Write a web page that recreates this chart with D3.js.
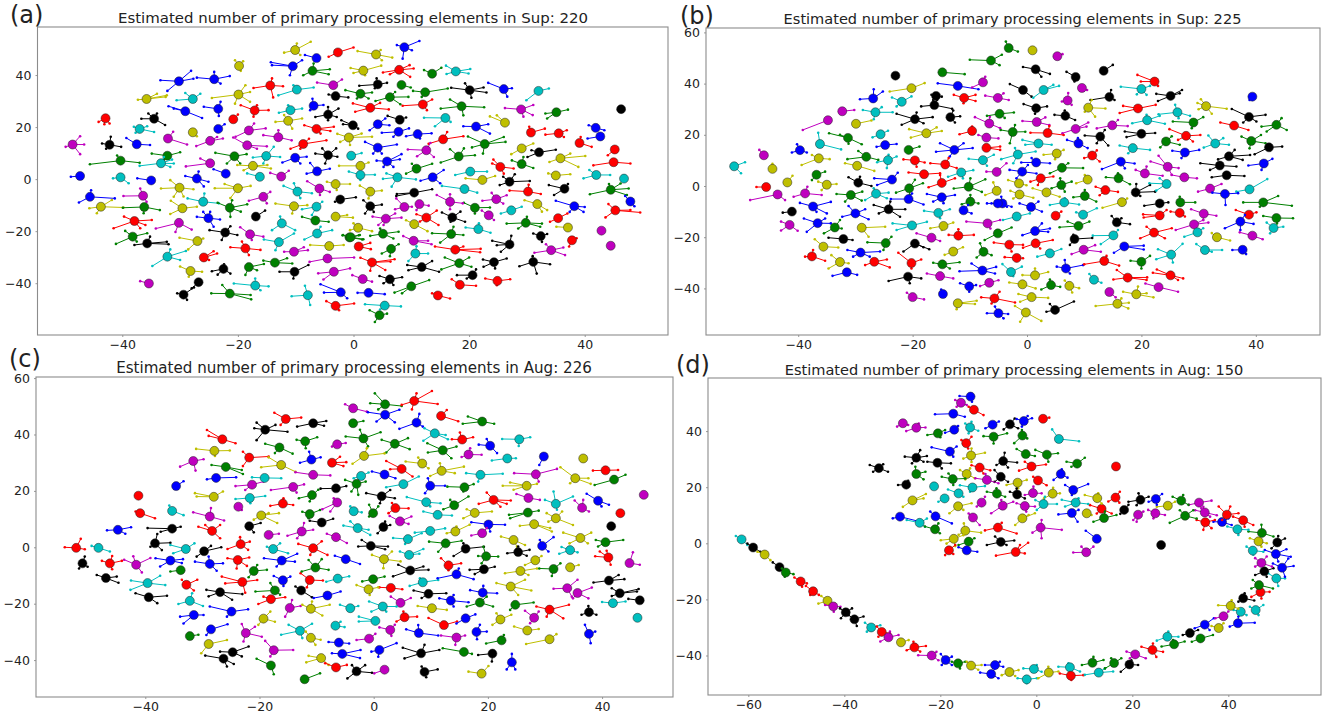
<!DOCTYPE html>
<html>
<head>
<meta charset="utf-8">
<script src="https://cdn.jsdelivr.net/npm/d3@7"></script>
<style>
body { margin: 0; background: #fff; }
text { font-family: "DejaVu Sans", sans-serif; fill: #222; }
</style>
</head>
<body>
<div id="chart"></div>
<script>
// each cluster: x, y, group, then dx,dy pairs for its members (t-SNE units)
var titles = [
  "Estimated number of primary processing elements in Sup: 220",
  "Estimated number of primary processing elements in Sup: 225",
  "Estimated number of primary processing elements in Aug: 226",
  "Estimated number of primary processing elements in Aug: 150"
]
var letters = ["(a)", "(b)", "(c)", "(d)"]
var groupColors = ["#0000ff", "#008000", "#ff0000", "#00bfbf", "#bf00bf", "#bfbf00", "#000000"]

var xTicksA = [-40, -20, 0, 20, 40]
var yTicksA = [-40, -20, 0, 20, 40]
var xTicksB = [-40, -20, 0, 20, 40]
var yTicksB = [-40, -20, 0, 20, 40, 60]
var xTicksC = [-40, -20, 0, 20, 40]
var yTicksC = [-40, -20, 0, 20, 40, 60]
var xTicksD = [-60, -40, -20, 0, 20, 40]
var yTicksD = [-40, -20, 0, 20, 40]

var clustersA = [
[-48.6,13.3,4,1.3,3.2,-1.2,-.9,1.3,-3.7,2,0],[-42.9,23.4,2,-1.2,-1.4,-.2,-2.3,.7,-2],[-42.2,13.2,6,.2,3.1,2,-.8,-1.3,.5,-.6,-1.5],[-37.5,13.4,0,-1.8,2.4,2.3,-.3],
[-37,19.3,3,2.5,-1.2,-1,.8,1.3,1,-.7,-1.5],[-34.5,23.2,6,-2.2,0,1.9,-2.4,-1,2,.5,2],[-35.8,30.8,5,3.5,1.4,3.3,.8,-1.5,-.3,1.8,2],[-30.2,37.6,0,-3.2,.4,2.1,4,-2,-3.7,2.5,1],
[-24.1,38.4,0,-3,.6,2.7,1.2,0,2.8,1.1,-1.7],[-19.8,43.5,5,-.7,2.2,.7,1.8,.3,-1.9],[-27.8,30.8,3,-2.8,-.5,-1.3,2.3,1.3,2],[-29.1,26.1,0,-2.9,1.9,2.9,-2.6,-2,1],
[-23.4,27,0,-2.5,.8,.4,2.7,.1,-2.7],[-19.9,32.5,5,-4.6,-1.3,1.2,3.6,2,-2.8,2,1,-.6,-3.5],[-14.4,36,2,-2.9,-1,2.2,-.3,.3,2.7,.5,-4.6],[-17.1,26.4,2,-2.4,2,2.4,.1,-.2,-2.4,.4,2],
[-20.8,23,2,.8,1.8],[-23.4,19.3,0,1.1,1.8],[-27.8,18,5,.7,-1.5],[-32.1,15.6,4,3.3,-2.3,.9,2.6],[-24.8,14.7,4,-2.4,-2,2.2,.9,1.2,1.5],[-18.1,18.7,4,-2.3,-2.4,2.9,.8,.9,2.7],
[-18.4,13,4,-2.4,3,3.4,-.4,1.7,-1.3],[-13,16.1,4,-2.6,.8,0,2.7,2.3,-1.2],[-11.3,22.4,5,-2.2,-.4,2.4,.9,.7,-3,-.7,2.2],[-10.9,26.5,3,-2,-1,2,.6,-.4,1.9],[-9.8,34.4,3,-3.2,-2.2,2.9,.8,-.6,1.7],
[-7.1,41.6,1,-1.6,-1.7,3,.6,.2,2.8,2.8,-1.3],[-10.5,43.4,0,-3.8,1.5,1.6,2.3,-.5,-3.5,-3.6,.4],[-6.4,46.5,0,-2,1.2],[-10.1,49.6,5,2.7,3.2,-1.9,-1,.9,-1.9,.3,2.5],[-2.7,48.7,2,-1.6,-1.7,2.7,1.9],
[-3.5,36.1,4,-2.8,1,1.5,2.2],[-3.1,31.9,6,-1.2,.6,2.2,-.5],[-6.9,28.2,0,-.2,2.7,1.7,.3,-.6,-1.7],[-4.4,24.8,6,-2.2,-.9,1.8,2.3,1.5,-.9,0,-2.2,0,2.9],[-6.4,19.3,2,-2.1,1.4,3,.8,2.4,-.8,.7,-1.8],
[-8.7,13.5,2,-2.2,-1.8,4,1.4,1,2,-.5,-1.8],[-4.4,9.2,6,-2.2,.6,1.4,2.6,-.5,-3.2,1.6,-.6,-1,2.6],[-15.1,8.9,3,-2.3,-.6,1.3,3.5,2.4,-.4,-.5,-2.9],[-20.6,8.8,1,-3.3,1.3,2.1,.8,-1.3,-2.8,1,-2.8],
[-32.2,9,1,-2.7,.8,2.2,1.3,-.6,-1.5],[-40.3,7.1,1,-5.3,-1.4,3.3,-.8,-.6,2],[-33.3,6.1,3,-3.7,-1,2.2,-.1,1.9,1.4,.5,2.4,1.6,-1.4],[-24.8,6.1,4,-4.2,-1.2,-1.7,1.8],[-17.4,5.1,5,-2.7,.3,3.1,-1,2.5,.3,-1.6,-1.7],
[-10.1,8.2,0,-2.2,-1.8,2,.4,.9,-2.2],[-6.3,3,0,-1.2,3.2,2.2,1,-1.8,-.9],[-12.5,1,4,-1.9,1.4,1.3,2.2],[-16.2,.9,3,-2.2,1.3],[-22.1,2.1,0,-2.1,1.7],[-47.3,1.2,0,-1.6,-.3],[-40.3,.7,3,-1.3,-.4,1.4,-2.3],
[-35,-.5,0,-2.4,.8],[-27.1,.2,0,-2,1,2,-1.2,1.2,-3,.3,2.7],[-3.1,-1.9,5,-1.5,.9,2.5,0,.2,-2.3],[-2.3,-7.8,6,-.9,-.9,2.7,.8],[-3.1,-14.4,5,2,.6,3,-.4],[-.7,-22.4,1,2.2,-.8,-1.2,.8,1.6,.8],
[-45.6,-6.8,0,4.3,-.6,-1.9,-2.2,.2,2.5],[-43.7,-10.6,5,-2,-.6,3.9,-.3,1.9,2.6,-.7,-2.5],[-36.4,-6.4,4,-3.4,-.1,-.5,2.8,.6,-2.3],[-36.2,-10.7,1,-3.7,-.3,2.7,-1.2,-.1,-2.4],[-30.1,-3.3,5,-3.2,-.3,-1.6,2.9,2.4,-.6,-1,-3.5,.7,-3.4],
[-20,-3.5,5,-4,0,2.2,.9,-1.3,-3.8,-2.3,1.6],[-26,-8.7,3,-2.7,1.3,2.7,-.6,.2,3.2],[-29.6,-11.2,5,-2,2.9,-2.1,-2.2,2.5,.6],[-21.4,-11,1,-2.1,1.9,3,1.3,.4,2.9,.1,-3.5,1.9,-1.5],[-15.6,-6.8,4,-2.5,-1.5,1.2,1.9,.6,-2.5],[-16.9,-14.4,6,1.6,2.3],
[-10.3,-10.4,5,-3.2,1,2.3,.4,-.3,-2.8],[-9.7,-4.8,3,-2.4,2.2,2.5,-.6,-.6,3.2,.5,-2.5],[-5.9,-3.6,4,-2.1,2.8,1.8,-1.3,.1,-2.5],[-6.4,-10.6,3,-2.5,-1,1,1.9,-.8,-3.2],[-6.6,-15.9,1,-2.3,1.4,2.3,-.5],[-25.1,-15,0,-2,.5,2,-.5,.3,2.4,-.9,2.4,.9,-3.3],
[-30.2,-16.8,4,-4,-2.2,2.2,-2.6,-.6,-3.5],[-37.9,-16.1,2,-3.6,-2.8,3,.4,-1.8,1.7,1,-2.8,1.9,-1.5],[-38.2,-22.1,1,-2.9,-2.8,2.5,1.3,-1.3,2.2,.7,-1.9],[-35.7,-24.7,6,-2.2,-.6,3.7,-.3,3.4,.6,.5,2.6],[-32.2,-29.8,3,-2.6,-3.6,3.2,2.2,2.2,-1.3,.5,2.8],
[-27,-23.8,5,-3.1,1.3,-1.6,-3.2,1,1],[-22.2,-20.5,6,-2.7,.9,2.1,-1,.9,2.4,-.6,-2.9],[-17.9,-21.2,4,-1.7,2.7,2.3,-.9,.3,-2.2],[-12.4,-17,3,-1.7,-2.6,2.3,-2.6,-.3,2.6],[-12.9,-24.2,3,-2.6,1,2.6,3.3,-.6,-3.1],[-6.3,-20.9,3,-2.2,-2.3,2.6,1.3,.6,2.6],
[-18.7,-26.6,2,-2.6,.4,2.6,-.6,-.6,2.6,.6,-2.6],[-10.3,-27.9,4,-1.7,0,2.4,.6,1.7,1.7],[-4.2,-25.7,5,-3.3,.4,2.5,.4],[-25.9,-30.1,2,2.3,1.5,1.7,2.4,.9,-1],[-28.2,-35.3,5,-1.8,1.7,2,-.3,-.3,-2.2],[-22.5,-34.5,6,-2,-.9,1.2,-1.8,.1,1.8,-1,-2.2],
[-18.1,-33.8,1,2.6,1.2,-.6,-3,1.4,-1.2],[-13.6,-32.1,1,-2,.8,3,-.3,2.1,1.7],[-10.2,-35.6,6,-2.6,0,2.4,2.6,-.2,-2.6],[-4.5,-30.5,4,-3.1,-1.3,4.6,.4],[-3.4,-35.6,4,-2.7,-.6,2.8,1.3,-1.8,-3],[-35.4,-40.1,4,-1.5,.9],[-26.8,-39.6,6,-1.2,-2.4],
[-29.4,-44.4,6,1.8,2.8,.6,-2,-1.1,.5],[-17,-40.9,3,-3.7,.8,2.3,-.3,0,2.7,.9,-1.8],[-21.4,-44,1,-3.2,.1,3.7,-2.2,3.6,-.5,-1.3,3.3],[-7.9,-44.6,3,-2.8,-.4,-.5,3.6,.4,-3.8],[-2.2,-43.5,0,-3.5,3.1,-2.9,-.1,1.1,-2.3],[-3.1,-48.7,2,-1.6,1.8,.6,-1.7,3.2,.9],
[8.8,50.7,0,2.6,2.4,-1.3,.8,-.3,-4.4,1.3,-1.2],[3.9,47.9,5,-3.2,1.3,2.8,-1.2,1,-2.2,.8,1.7],[1.7,41.7,5,-2.2,1,3.1,1.9,.3,-1.8,-1.7,-.9],[7.9,42,2,-2.8,-1,2.5,.5,1.8,1.8,1.9,-2.7,-1.6,-1.7],[13.6,40.5,1,-1.4,1.4,1.6,2.3],[17.7,41.4,3,-1.7,2.2,2.5,.9,2.2,-.8,-1.6,-1],
[4.2,36.4,6,-3.2,-.5,1.6,.6,-.2,2.3,-.5,-1.5],[8.3,36.2,1,1.6,-1],[12.4,33.4,1,-2.1,.5,3.9,1.4,-.6,-1.8],[20.1,34.2,6,-3.2,.9,2.9,-.9,-.8,2.6,.3,-2.9,2.4,1],[26,34.6,0,-2.7,2.4,1.4,.3,.6,-2.9],[32,33.9,3,-2.1,-3.6,1.8,.9],[1.2,32.8,1,-2.6,1.4,2,.5,1.4,-1.8,-.6,-1.8],
[6.3,31.5,1,-2.5,-1.5,3.2,.1,1.8,-2.7,.9,2],[29,26.8,4,-2.8,.5,2,-2.2,2.1,1.7,.4,-2.8],[35.1,25.7,1,2,1,-1.6,-2.4,-1.9,-.5],[46.3,26.9,6],[2.9,27.4,2,-3,1.7,3.2,-.6,1.7,1.9,-2.6,-1.5],[12,28.7,2,-3.5,-.5,1.6,1.9,.7,-2.2],[18.7,28,1,-3.6,-.9,3.9,-.4,-2,2.6,.3,-3.5],
[15.9,23.5,3,-3.7,.1,-1.8,-3.2,.9,-1.5],[4.2,21.1,0,-1.4,-2.3,2,-.4,1.3,2.2],[-.1,20.7,6,-2,1.9,.9,-1.3,-1.7,.4],[8,22.8,6,-2.1,1.5,1.1,.9],[7.8,18.2,0,-2.9,-.4,1.8,1.3,-.9,-1.9],[11.1,17.3,0,-2,-.8,2.4,.3,.4,-1.7],[21.2,20.2,0,-2.2,.1,2.4,-2.7,2.1,.9],
[26.2,21.7,5,-2.6,2.4,-1.4,2.8],[41.9,19.7,0,-1.2,1,1.5,-.9],[42.7,16.4,0,-2.2,-.8],[30.7,17.9,2,2.4,1.5,-.3,2.2],[35.5,17.6,2,-2.3,-.5,1.4,1.2,.9,-1.4],[39.1,13.9,2,2.1,-1.5,.2,2.3],[45.2,11.4,2,-1.2,-2.2],[45,6.5,2,-3.5,-1.2,2.9,-.5],
[-.8,16,5,4,.3,2.2,1.5,.2,-2.9,-2,1.4,-1.5,-1.7],[15.5,15.3,2,-2.5,-1.7,3.5,1.2,.7,2.8],[22.7,13.5,1,-2.9,2.9,3.6,.8,3.3,2.7,-.3,-3.7,-2.2,-1.3],[29.1,11.8,5,2,1.9,-1.8,-2.2],[32.1,10.3,6,-2,-1.8,2.9,1,-1.3,.8],[35.8,8,5,-1.9,-1.4,4.3,.9,3.1,-3.3,1.7,1.8],
[12.6,11.1,4,-3.2,.3,1.3,-2.6,.7,2.8,-1.6,-2.3],[4.2,12.1,0,-2.2,2.2,3.3,1.2,-.8,-2.3,.7,-2.3],[-.4,9,3,1.8,1],[1.2,5.1,5,1.4,1.3,-3.7,0],[5.8,6.8,0,-1.8,.3,2.5,2.8,2.2,.8,-.6,-2.1,1.1,-2.1],[18.2,8.7,1,-3.1,-2.3,2.8,.5,-1.5,2.8,.9,3.1],[10.9,4,1,-1.8,-1.9,2.7,1.9,-.8,1.9],
[25.4,4.7,2,-1.4,1.3,2.3,-.6,-1.2,2.8,.6,-2.6],[29.1,5.8,1,-1.7,1.4,2,-1.5,.3,2.7],[35,1.4,5,2.5,.5,-1.3,.8],[42,1.6,3,-2.2,-1.3,2.4,0,-1.2,1.9],[46.8,.2,3],[20.2,2.9,3,-2.6,-1.3,2.9,0],[7.6,.7,3,-2.5,-.6,3.2,-.8,-1,-3.6,-1.9,1.5],[13.7,.7,0,-2.1,-1.3,1.9,2.8,1.3,-2.3],
[1.2,1.6,3,-2,1.3,2.5,.1,0,-1.9],[22.3,-.3,5,-2.9,.6,2.2,1.5],[27,-1,6,-1.7,-1.3,3.5,.3,.9,2.9,-1.1,1.9],[2.9,-4.8,5,-1.8,2.3,2,.4,-.3,-2.6],[10.5,-5.2,6,-3.1,-1.3,3.1,1.3,-3,-.5],[19.2,-3.8,3,-3.9,1.2,2.2,-1.4],[30.2,-4.8,2,-3.2,.4,2.2,-.9,.1,2.6],
[36.5,-3.7,6,-2.7,1.4,-1.8,-2.4,.6,1.8],[44.5,-4.1,1,-3.6,-1.7,3.1,.5,2.8,-2,-.3,2.2,1.7,2.4],[47.9,-8.6,0,-.9,2.1,.7,-1.8],[45.3,-12,2,-1.7,-2.7,4.3,-.8,-1.2,2.4,2.6,.1],[42.9,-19.8,4],[44.5,-25.6,4],[38.2,-10.4,0,-3.2,2.1,1.8,-.3,1.6,-2.2,-.8,-2.2],
[31.8,-9.6,5,-2.2,1.5,1.7,-2.3,.8,-2.9],[24.7,-7.7,4,-2.4,-.6,1.8,1.5,1.2,-1.7,-.8,2.4],[21,-11,1,-1.9,1.9,2.6,.1,0,-2.2],[16.7,-8.7,4,-2.3,2.6,2.2,-.6,0,2.9,0,-2.9],[11.4,-9.6,4,1.6,-.6,-.5,-2.3],[8.8,-10.7,4,-1.6,-.9,-1.4,3.3,1.3,.1],[2.9,-10.4,6,-1.2,2.3,2,.6,-.9,-2.8,.6,-2.2],
[12.6,-14.8,2,-1.7,1.3,1.8,2.7,2.1,-2.8,-1.1,-1.5],[17.1,-14.7,6,-1.8,1.9,2.2,-1.7,1.4,2.2,-.3,-1.7],[23.4,-13.9,4,-1.2,1.8,.9,-1.8],[27.3,-12,3,-1.8,-1.2,1.8,1.4],[29.8,-16.8,1,-3.3,-.3,2.8,-.3,2.5,-1.5,.2,2.3,-1.3,-2.2],[35.4,-15,2,-1.4,-1.4,1.6,1.8],[37.1,-18.6,5,-2,.3],
[32.4,-21.9,6,-1.3,1,1.1,.8,.2,-2.2],[37.8,-23.5,2,-.5,-2.4,.8,.8],[34.2,-27.3,4,-2.9,-1,2.4,-1.9,-.9,2.3,2.1,1],[31.1,-31.8,6,-2.4,-1.7,2.9,-.9,.6,-4.5,-.1,2.2],[27,-25.1,6,-3,1.4,-1.5,-2.8,.3,3.3,-2.2,-.3],[21.6,-19.2,3,-2.2,.6,2.1,-1.4,.1,2.2],[16.9,-21.1,1,-3.3,.3,-1.9,-3.3,2.1,-.4,.4,2.8],
[10.4,-23.7,4,-1.8,1.8,3.1,-1.3,2.5,0],[10.7,-28.6,3,-1.2,-2.9,2.2,0,.2,2.8],[17.6,-27.1,2,-3.5,1.2,4.4,.3,4.3,-1,1.4,1.2],[24.3,-31.9,6,-1.9,1,2.2,1.4,-1.8,-1.8,.2,-2.4],[18.3,-32.3,1,-3.1,-2.4,1.7,2.2,-2.5,2.2,2.1,-1.4],[11.8,-33.8,6,-2.5,.8,3,-1.8,1.8,2.3,-2.3,-1.2],
[20.6,-36.9,6,-2.7,0,.6,2.2,-1,-1.3],[24.9,-39.1,2,-2.1,.9,2.2,.6,-.1,-1.7],[18.4,-40.6,2,-1.4,2.1,2.8,-.4],[14.6,-44.7,2,-1,.8,2.1,-1.2],[10,-41.2,1,-2.9,-2.4,3.1,2.4,-1.6,-2.7],[2.6,-43.7,0,-1.9,0,2.8,-.5],[5.4,-48.6,3,-3.4,.5,2.8,-.3,-.8,-1.5],
[4.5,-52.3,1,-1.7,1.9,-.8,-2.6,1.3,.6],[1.6,-38.4,4,-1.8,1.5,1.6,-1],[6.3,-38.5,6,-1.8,1.3,2.1,.8,-1.1,-1.5,.6,-2.2],[6.5,-26.8,1,-1.6,-1.8,1.3,1.8,-.2,-2.8],[3.2,-32,2,-2,1.8,3.9,1.2,2.3,-2.9,-.3,-3.2,3.2,.3],[.9,-25.9,2,2,1.4,2.1,-1],[-.5,-22.3,1,2.2,-.8,-1.3,.8,1.6,.8],
[5.1,-21,1,-2.2,-.8,2.7,.8,1.8,-1.8,-.5,2],[.8,-18.7,5,2.4,-1.3,-.8,1.7,-1.4,-.9],[10.5,-17.3,5,-1.4,1.5,2.3,-2.7],[5.6,-15.2,4,-2.3,.8,2.7,.4,-.4,-2.4,1.6,2,-1.3,-2.4]
]

var clustersB = [
[-51.2,7.7,3,1.9,1.6,1.2,-2.7],[-46,12,4,-.8,2.1],[-44.5,6.7,5,0,2],[-41.9,1.4,5,.9,2.6],[-45.6,-.4,2,-1.7,0],[-43.6,-3.3,4,-4.8,-2.2,1.3,-2.2],[-38.8,-2.9,4,-2,-1.3,2.9,-.6,.4,2.6],[-35,.5,5,-1.5,1.2,1.7,.3,-.9,-2.1],[-36.8,4.4,1,-.8,-2.1,1.5,1.2],
[-34.8,25.7,4,-4.4,-3.8],[-32.3,29.2,4,2.1,.5],[-26.9,34.2,0,-2.3,-.3,1.7,2.7,.1,3.6],[-20.2,38.2,5,-3.8,-1.3,2.3,2],[-23,43.1,6],[-14.8,44.4,1,3.9,-.7],[-6.3,49,1,-3.7,.3,1.9,2.3,1.5,-1.8],[-12.1,39.1,0,-3.5,1,3.6,-1.3],[-7.7,40.5,4,-1.9,-2,.4,2.2],
[-15.9,35.2,6,1,-.3,-.8,.4,-.5,-1.6],[-11,34.4,2,-1.8,1.2,2,1.2,2,-1.2,-.1,-2.1],[-21.9,32.9,3,-1.7,1.7,1.7,2.1,-.9,-1.8],[-26.5,28.8,3,-2.2,.9,3,0,-.3,-2.7,1.1,2],[-16.2,31.6,6,-2.3,-.5,3.1,-1.4,.5,2.1],[-19.6,26.1,6,-3.2,2.1,3.1,.8,-2.3,-2.2,.3,2.6,1.5,-1.6],
[-13.4,26.9,6,1.7,.3,.5,2.6,.8,-2.1],[-29.9,24.3,5,2.7,1.3],[-17.6,20.6,5,-3,1.6,2.7,.9,-2.7,-1.7,1.8,2.3],[-25.6,20.2,3,-1.4,-1.2,1.3,1.4],[-31.3,18.8,1,-3.3,1.8,2.4,-2.5,.1,-2.3,-1.4,1.2],[-36.2,16.4,3,-.3,4.4,3.7,-2.1],[-39.7,14,0,-1.4,-.9,1.2,-.9,-.5,2.3],
[-24.8,16,0,-1.5,-.7,2,.4],[-36.4,10.8,5,-3,-2.6,1.9,-.3,-1.2,1.3],[-20.7,14.1,1,1.9,1.3],[-9.6,21.5,2,-2.2,-1.3,0,1.7],[-12.7,14.1,0,-3.2,-.7,3.2,.7,-2.5,2.6,1.6,2.6,-.8,-2.6],[-7.1,18.9,4,-1.4,1,2.1,-.3],[-6.6,24.4,4,-2.5,2.5,1.9,-1.8,.1,2.7],[-4.8,28.2,1,-2.2,-.8,2.5,.5,.9,-1.6],
[-7.1,14.9,2,2.4,.5,2.4,-.8],[-7.7,10.1,3,-2.5,.5,1.9,2.1,.7,-2.2],[-5.1,34.4,4,1.9,-.8,1,1.8,-2.2,.9],[-19.6,10,2,-2,.4,1.7,-.8,.3,-2.5],[-14.3,8.4,2,-2.6,.5,2,-1.4,.6,2.5],[-29.7,7.9,5,-2.1,1,3,-2],[-28.1,11.4,1,-3.3,-.9,-1.4,2.3,2.1,-1.2],[-24.3,10.1,3,-1.9,-.8,1.5,1.4,-.2,-3.1,.1,2.1],
[-3.2,53.9,1,-.5,2.5,1.6,-1.4],[.96,53,5],[5.3,50.7,4,.9,.8],[1.5,45.6,6,-2.2,.9,2.5,-1.8,1,-2.9],[8.5,42.6,6,-1.6,2,-.2,-1.8],[13.4,45,6,1.6,2.3],[22.3,40.8,2,-3,2.6,-2.4,0,.6,-1.7],[20,37.9,3,-3.6,.9,1.5,1.2,-.8,-2.1,.9,-2.3],[-.7,37.5,6,-2.3,2.3,1.5,-2.6],
[2.9,37.5,3,-1.8,-3,2.7,1.6,1.7,2],[9.6,38.3,4,.9,-.8],[7.1,33.4,4,.1,2.9,-1,-.4,.7,-1.7],[14.4,34.8,6,-3.3,-1.2,.3,2.7,.9,-1.2],[25.1,35.2,6,-2.5,.8,2,2.3,-2.2,-2,1.6,1],[39.4,34.9,0,-.5,-1.3],[31.3,31.2,5,3.6,-1,-1.5,1.2,-.9,2.7,1,-3,-1.3,-1.2],[10.7,30.6,5,3,-.3,.6,3,1.2,-3.5,-.6,-1.6],
[19.4,30.3,2,-3.2,-1.8,3.1,1.4,-2.6,1],[26.3,28.8,3,-3.3,-.8,2.2,-1.4,-.4,2.9,.2,-2.3],[1.6,30.4,6,-2.2,1.6,1.9,.7,-.2,-2.2],[6.7,27.4,6,-1.9,.4,1.7,-1.6,-.1,2.1],[1.7,25,4,-2.5,.4,2.2,-1.2,1.5,1.8],[38.8,27,6,-3,3.1,2.9,.8,-1,-2.2,1.3,-1.8],[21,25.7,3,-2.6,-1.2,3.1,-1.4,2.2,1.7,-.1,2.1],
[29.1,24.8,1,-3.6,.4,1.7,2.1,-.3,-2.2],[43.6,23.9,1,-2.6,-.7,1.8,-2,.9,2.6,-1.7,-2.6],[36.2,23.6,2,-2.4,1.2,2.5,-1.7],[14.9,23.7,4,-2.7,-1.2,2.7,-.3,1,2.1],[8.5,22.3,4,-2.3,-1.7,2.2,2.5,1.9,.9],[3.6,20.7,2,-3,.1,2.8,-.8,.3,2.7],[-2.5,21.1,1,-2.1,.8,2.2,.1,-.5,-4.4,.4,2.7],
[20,20.4,6,-2.9,.9,2.4,.3,-2.6,-1.3],[12.8,19.3,6,-2.7,.4,1.4,-3.5,.8,2.6,-.6,-2.6],[27.8,19.6,2,-2.9,2.6,2.5,.3,-1.4,-1.6,1.2,-2.2],[24.3,17.4,1,-1,-2.3,2.4,-1.3,1,2],[32.9,16.6,3,-2,-1.6,2.4,-.5,-1.2,3.1,1.4,2.1],[39.2,17.6,1,-1.7,1.7,2.5,-.9,-.3,-2.9,1.7,2.3],
[42.3,15.1,6,-2.5,-2.7,2.3,.3],[2,16.6,3,-2.8,1.4,2.3,-.5,-2.3,-.5],[9,16.6,0,-2,1.4,1.6,-1.8,-.1,2.1],[18.5,14.8,3,-2.3,1,3,-.7,-.8,-2],[27.6,13.1,0,-2.2,.7,2.5,1,-.6,-2.2],[35.3,11.6,6,-1.9,-1.2,3.7,.5,1,2.5,2.4,-1.4],[5.2,12.7,5,-2.3,-.5,1.2,1.4,-.3,-2.2],
[-1.6,12.3,3,-2.9,-1.8,3.1,1.2,-.8,-3.4,-.5,2.5],[11.4,11.9,2,-1.4,-1,1.3,-2.3,.8,2],[16.4,9.5,0,-3.3,-2.9,2.4,-.7,.7,-2.6],[24.6,7.5,4,-3,2.1,1.9,-.5,-1.6,4.3,.7,-3.1],[33.7,8,6,-3.4,.9,2.9,-.4,-1.7,-1.7],[41.4,8.8,0,-2.7,-.8,1.5,1.8,-.4,-2.5],[1.6,9.2,0,-2.6,0,2.4,-.3,-.8,1.7],
[-.85,5.6,0,-2.2,.7,2.5,-.7,-1,-2.6,1,2.6],[6.1,7.1,1,-2.1,-2.1,3.7,-.1,1.1,1.8],[-5.3,5.5,4,1.7,3.4,-1.8,.1],[20.6,4.9,4,-1.6,1.4,3.1,-.9,.3,2.7],[27.5,3.4,4,-2.2,.9,2.2,-.4],[34.9,4.2,6,-2.6,-.8,3.1,-.3],[2.4,3,2,-1.8,-1.3,2.2,.7,-.5,-2.6],[6,.4,1,-1.7,-1.3,1.8,1.3,.6,-2.6,-.2,2.6],
[10.6,2.5,5,-2,-1.4,-.5,1.8],[16,3,1,-2.2,.4,2,-2.3,-.1,2],[19,-2.5,6,3.4,.3,2.5,2.9,.1,3.3,.8,-1.4],[24.4,.8,3,-3,.3,-1.2,2.2,-1.8,-2.6],[32,-1,4,-2.1,-1.2,2,1.8],[38.9,-1.3,3,3.1,4,-2.3,-.9],[34.6,-3.1,0,-2.2,.5,2.3,.3,.1,-4.3],[41.3,-6.4,1,-3.5,0,5,-1.3,2.6,2.5,-.6,-1.7],
[26.8,-6.4,1,2.6,0,-.1,2.2],[26.7,-10.5,2,-1.6,.5,.9,-1.4],[23.2,-6.8,6,-2.7,-.9,1.5,.4],[23.2,-11.5,2,-2.9,.4,-2.8,-.8,1.2,2.1],[16.6,-6.3,5,-3.4,-2.2,.9,1.4],[10.1,-3.9,1,-2,-.5,2,-2.2,0,2.3],[13.7,-1.6,2,-1.7,1.3,2.2,-.7,-1,-2],[3.4,-2.5,5,-2.4,1.6,2.3,-1.7],
[6.5,-6.4,3,-2.5,-1,2.6,-.8,.1,1.6],[9.8,-11.2,3,2.4,2.5,-1.2,.9],[5,-11.6,2,1,1.6],[30.9,-10.8,4,-2.2,1.7,2.2,-.8,-.1,-2.5],[38.8,-11.2,2,-2.3,1.8,1.3,.9],[43.6,-12.5,1,-2.3,.8,2.9,-.1,.1,-2.1],[43.1,-16.4,3,-1.2,2.1,1.7,.5,-.6,-2.1],[37.3,-13.9,0,-2.7,-2.6,2.3,-.9,0,-3.3,.8,2.6],
[29.2,-15,4,-3.2,-2.2,2.5,.7,1.6,1.7],[29.8,-18.1,3,-2.3,-1.7,1,1.6],[22.2,-18.2,2,-2.4,-2.2,3.1,1.7,1.9,-2.2,-1.3,2.3],[33.2,-20,5,2.3,-1.3,-.9,1.6],[39.4,-19.4,4,-2.2,1.3,1.8,-1.4],[31.1,-25,3,-1.5,2.3,3,0,1.2,-.7],[37.7,-24.9,0,-1.8,-.1,.6,-1.7],[25.2,-26.8,3,-2.6,-1.8,2,4.2,-2.3,2.1,.3,-3.1],
[20,-29.6,1,-1.9,.4,1.5,2.3,0,-2.6],[25.1,-34.9,2,-3.1,1,2.2,-1.2,-2.4,2.3,1.3,-1.8],[17.6,-35.8,2,-2.5,-.7,3.4,.1,-1.9,3,3.3,-.9],[23,-39.5,4,-2.3,1.4,3.4,-1.8],[19.1,-42.3,5,-2.3,1,3,-1.2,.3,3,1.8,.4],[15.8,-46,5,-3.8,-.9,2,.4,1.9,-1.8,.7,2.1],[14.4,-41.4,4,1.1,-2.1],
[4.9,-48.4,6,3.3,3.3,-1.5,-.7,-.9,2.3],[-.2,-49.4,5,-1.9,2.5,2.7,-3.3,-1,-3.6],[-5,-49.7,0,1.7,-.3,-.6,2.6,.9,-2,-2,0],[-5.7,-43.9,2,-2.3,.4,3.6,-1.6,.9,2.6,-.5,-2],[.8,-43.4,5,-2.3,1.2,2.9,-.3,-2,-1.8],[-.8,-38.4,5,-2.3,.7,2.3,-1.6],[1.4,-34.9,5,-2.2,.1,2.3,1.3,0,2.7],
[4.2,-38.7,1,-1.7,-1.7,1.6,-.7,-.2,2.2],[7.4,-39,5,-.8,2.1,1.7,-.9,.5,-2.6],[11.7,-36.6,3,-.8,2.2,1.3,-1.2],[6.8,-32.2,0,-1.6,.7,3,1.3,-.2,3.3,.7,-2],[13.5,-29.3,2,-3.5,-1.3,2.6,-1.8,.4,2],[9.9,-24.9,4,-2.1,-1.7,3,-.8,2,1.8],[4,-26.3,3,-2.2,-1.3,2,1.7],[17,-23.6,0,-1.8,-2.5,3.4,-1.2,3.4,.3],
[15.1,-19.3,3,-3.6,-.1,-2.2,-3.4,.8,2.1],[8.3,-20.7,6,3.1,.4,-.8,-2.3,-.2,1.6],[9,-15.6,1,-3.3,-.5,1.9,1.7,-1.9,1.7],[15.7,-14.2,6,2.3,-.7,-.9,2.5,.8,1.6],[1.4,-17.6,0,-2.2,-1.6,2.6,1,1.2,3,2.3,-.3],[-1.8,-11.9,3,-2.4,-1.4,2.3,1.2],[.7,-8.2,0,-2,1.4,1.9,-1.8,1.3,2.1],[-4.3,-6.8,0,-1.9,0,1.6,-1.3,-.2,2.6],
[-5.1,-18.5,1,2.4,2.3,-2.3,-2.6],[-3.1,-22.9,2,-2.7,.8,2.4,-.1,.4,-2.7],[1.5,-22.4,2,-2.2,-1.7,3,1.3,.8,-2],[-1.8,-28.1,2,-2.1,.3,1.1,-.1],[-2.8,-33.6,3,-1.5,3.1,1.9,2.1,.4,-1.6],[-23.6,2.5,0,-3.1,.5,1,2.7,-2.6,-2.1],[-20.6,-.9,1,-2.3,-1.7,2.4,2,1,3.3,.1,-2.6],
[-14.9,1.2,2,-2.3,-1.7,2.3,1.8,-.3,3.1],[-18,4.6,2,-2.7,.7,2.8,.4],[-11.5,5.3,3,-2.3,-1.7,2.1,.9,.3,-2.3],[-10.2,-.3,1,-2.6,-.7,2.9,2.9,.3,3.3,2.3,-2],[-5.3,-1.9,5,-2,-1.6,-.6,3.3],[-9.9,-6.1,1,-1.5,-1,1.4,-.7,0,2.6],[-11.1,-9.5,0,1.4,-1.2,.8,2.1],[-14.9,-4.4,0,-2.6,1.3,2.3,.9,.3,-2.3,-1.5,-1.7],
[-20.7,-5.1,0,-3.1,0,2.6,-2.1,.6,2.2],[-15.5,-10.5,3,-2.5,.8,2,1.4,.3,-2.1],[-24.2,-9.1,6,-2.6,1.7,2.9,0,2,-2.9,-1.7,-1.6,.3,3],[-26.4,-3,3,-1.9,-2.5,2.2,.4,-.4,2.1,1.9,-1.8],[-30.8,-3.5,1,-2.5,.4,2,1.3,-1,-2.6,1.9,-2.2],[-29.5,1.3,6,-1.7,2.1,2.3,-1.3,.3,2.3],[-30,-10.7,0,-2.3,-1.3,2.3,-2.3,-1.2,2.9,1.7,1.6],
[-37.4,-8,0,-2.3,1.4,3.1,1.8,2.4,-2.7,.6,-2.1],[-41.1,-10,6,-1.6,-.4],[-36.6,-14.5,0,-2.4,1.8,-1.9,-3.4,2.3,-.1,1.3,1.8],[-41.5,-15.2,4,-1.5,1.3,1.4,-2.3,-1.5,-2.2],[-33.6,-16.2,1,-1.9,-2.3,.9,2.9,1.2,-.4],[-28.9,-16.3,5,4.1,.4,1.2,-3.5],[-32.1,-20.7,6,-2.6,.5,1.6,-.4],[-35.6,-23.7,5,-1.5,2.9,2.6,-.3,0,-1.3],
[-24.7,-22.3,1,-3.2,.3,1,2.5,-.4,-2.7],[-29.1,-26,0,-2.3,1,3.4,.4,-1.3,-1.6,1.6,-1.6],[-37.6,-27.5,2,-1.2,-.1,2.3,-1.7,.2,2.5],[-32.7,-29.7,5,-1.5,2.7,-2,-2.5,1.5,-.5],[-26.7,-29.6,2,-1.6,-1.3,2.7,-2.2,2.2,.9],[-31.5,-33.7,0,-2.5,-1.4,1.8,-1],[-20.8,-35.4,6,-3.4,-1.7,2.3,-.7,.3,-2.6],
[-20.2,-30.1,2,-2.3,4,1.7,1.4,0,-2.1],[-19.6,-22.5,6,-2,-3.1,2.5,-2.2,1.5,-1.4],[-16.7,-20.2,4,-2.6,1.7,1.5,-1.3],[-20.1,-15.4,3,-3.4,.8,2.6,1.4,-2.7,-1.8],[-14.6,-15.6,5,-2.3,-.9,1.7,1.3,-.3,-1.6],[-12,-19.4,2,-1.7,.3,2.7,.3,0,2.5],[-12.9,-25.6,5,1.7,1.7,-1.5,-1.3],[-7.6,-25.7,1,-.6,3.3,1.4,-1.3,-1.2,-2.2],
[-14.8,-30.6,1,3,.8,-1.6,.6,1.3,-1.6],[-15.2,-35.2,4,-2.3,1,2.3,-.9],[-7.8,-33,0,-4,-.3,2.4,1.4,-1.9,2.7,2.2,-1.2],[-10.1,-39.2,0,-1.6,1.2,1.2,.5,0,-2.1],[-14.7,-42.2,0,-.3,1.8],[-20,-43.4,4,-1,1.7,2,-.9],[-6.6,-37.8,4,-1.6,-1.3,1.6,1],[-12.1,-45.8,5,3.3,1,3,-.3,-.2,-2.3],
[-6.9,-14.6,4,-3.7,.7,2.2,1.3,.5,-2],[-1.4,1,5,-1.9,1.3,1.3,-.7],[-1.3,-3.3,5,-1.6,1.4,2.4,-1.3,-1.1,-1.6],[-5.1,-6.8,0,-1.9,0,1.6,-1.3]
]

var clustersC = [
[-52.1,-.2,2,-2,.2,.8,3.2,1.5,-.5],[-48.2,-.2,3,2,-1.3,-1.2,.7],[-51,-5.7,6,.4,2.4,-.6,-1.8,.9,-1.2],[-46.2,-5.7,2,-1.4,.9,2.1,.9,.4,2.6,.4,-2.1],[-46.9,-10.9,6,-1.6,1.1,2.2,-1.7,1.9,.5],[-41.6,-6.2,4,-2.1,1.8,2.5,2.4,1,-2.7,-.5,3],[-44.8,6.2,0,-1.9,-.2,2.3,.9,1.3,-1.4],
[-41.2,18.3,2],[-40.9,12.1,2,2.6,-1.8,-.8,.6],[-35.3,12.9,3,2,-1.5,-.5,1.9],[-35.3,6.6,6,-4.3,.2,1.5,.7,-2,-1.1],[-38.3,1.4,6,2.7,.2,.4,3.3,1.2,-2.4,-.8,-1.2],[-32.9,-.6,3,-2.7,1.4,1.5,2,-2.2,-1.5],[-35.6,-4.7,0,-2.6,.8,2.2,.5,-1.8,-2.1,2,-.9],[-33.8,-8.1,1,-1.8,-.5],
[-31.6,30.6,4,-2.3,-2,1.8,.6,.4,-3.4],[-34.6,21.7,0,1.3,1.7],[-28,17.9,5,-3.3,1.3,1.6,1.9,-3,.1],[-28.7,10.9,4,-2.9,1.5,2.5,-1.4,.2,3],[-28.3,5.8,2,-2.4,1.5,1.4,2.1,1.4,-2.6,-1.2,2.1],[-29.7,-1.4,6,3,1.4,1.2,1.9,-1.3,-1.9],[-28.7,-5.9,0,-2.6,.8,1.2,-2.4,2.3,.2,-.2,2.6],
[-27.9,34.2,5,-3.2,.7,2.7,.1,.1,-1.8],[-26.5,38.3,2,-2.7,3.3,2.3,-1.4,-2.4,1.2],[-25.9,28.5,1,-2.5,.7,3,-2.5,2.8,-1.1],[-27.6,24.6,0,-1.6,-.5,3.5,.2],[-21.3,22.2,4,-2.9,-.5,2,1.1,-1.2,-1.9],[-21.7,17.5,3,-2.5,-.4,2.7,.7,.1,-1.9],[-23.7,14.4,4,.6,-1.2],
[-19.7,11.3,5,3.1,.8,2.8,-2.7,1.3,.8,-1.3,-1.5],[-21.8,7.5,6,2,1.1,.8,-2.2],[-18.4,4.4,4,1.8,.4],[-23.3,1.1,2,-2.3,-1.7,1.6,.9,-.1,2.5,1.3,-2],[-23.8,-4.5,2,-1.8,.6,2,.9,1.6,-2.1,-.2,-3],[-21,-8.4,1,2.3,.4,-.9,-2.2,.6,2.1],[-23,-12.3,2,-3.6,1.9,2.6,.7,.5,-3.8,-3,-.5],
[-26.9,-15.9,6,-2.4,.8,3.9,-.7,2.1,-2.7,-2,-1.5],[-32.2,-19,3,-2,-1.1,2.3,-1.8,.4,2.7],[-32.8,-13.3,2,1.9,1.8,-.8,1.8,1.3,-2],[-39.6,-12.7,3,-2.9,.9,3.1,-.7,-3,-2.4,2.2,2.6],[-39.4,-17.7,6,-2.3,1.4,3.2,.5,1.5,-2.1],[-31.5,-24,0,-2.4,-.6,1.7,0,-1.8,-3],[-24.9,-22.8,0,-3.8,1.8,2.9,.8,-.8,-1.8],
[-28.5,-29.1,0,2.9,1.8,-.8,-2],[-32.2,-31.5,1,1.5,.5],[-28.9,-34.3,5,3.2,1.4,-1.3,-3.3],[-24.7,-37.2,6,2.8,2,-2.2,.2,1.6,-1.5],[-26.3,-39.5,6,-3.2,1.1,1.8,-1.9,.6,-2.8],[-22.4,-30.4,4,-.7,3.2,2.8,-1.3,1.6,2.2,-.4,-3],[-19.3,-25.3,5,2,-1.1,1.2,2.5,-.9,-2.2],
[-17.5,-36.5,4,-1.5,3.3,3.4,.1,-.6,-2.2],[-18,-41.9,1,-2.5,2.4,.5,-3.1],[-12.1,-46.8,1,2.7,2.1],[-9.2,-39.3,5,-2.6,-1.5,-2.2,.8,1.3,-2.4],[-12.9,-29.6,3,-3.3,-1.4,2.1,2.5,-2,2.1,.4,-2.6],[-11,-32.1,5,-.9,2.2,1.7,-.7,.8,-2.5],[-14.7,-21.5,4,-.8,-3.1,1.9,.7,.4,2.8],
[-11,-21.8,5,-1.5,1.4,3.3,1.4,2,-2.4,.2,2.6],[-18,-18.4,2,-2.2,-1.7,2.5,.7,-1.3,.9],[-17.3,-15.3,1,-3.4,-.4,-.8,2.6,.9,-1.5],[-12.7,-15.3,6,-1,1.4,1.9,-2.4],[-15.9,-11.7,0,-1.6,1.5,1.3,1.3,.1,-2],[-11.2,-11.6,2,-1.6,2.4,2.3,-.2,-.5,-2.6],[-16.1,-4.7,0,-3.1,.8,2.7,2.4,2.3,-.4,-.9,-2.1],
[-17.6,-.6,3,2.6,-1.5,1.2,2,-1.1,.8],[-12.6,5.6,4,-2.5,-1.5,2,.6,.4,3,-.8,-2.4],[-11.2,11.8,1,-1.3,.8,1.8,1.4,-.2,-1.5],[-14.1,21.4,4,-3.9,-1.1,1.9,.9,.6,-2],[-10.8,18.5,1,-2.3,-1.1,1.1,1.9,-.4,-2.2],[-15.9,15.5,2,-2.2,-.8,1.8,-.5,.1,1.9],
[-19,41.7,6,-1.9,.5,-1.5,-3.7,3.9,-.7,-1.5,2.5,1.8,1.7],[-15.4,45.5,2,-2,2.2,2.7,.5,-.9,-2.1],[-10.6,44,6,-2.8,-1.2,2.3,.8,1.9,-.9],[-12,37.6,1,-1.5,.5,2.1,1.4,.1,-2.5],[-16.5,35.4,1,-2.5,1.3,2.3,-2.2,-.8,-2],[-21.8,31.8,2,-1.1,2.1,3.4,.4,-1.1,-3],[-16.2,29.2,5,-3.5,-.8,2.5,-2.4,-2.2,2.7],
[-10.9,31.1,0,-2,-1.1,1.6,.8,-.4,2.8],[-10.6,25.7,4,-3.1,.9,3,-.2],[-19.1,24.6,3,-2.2,.2,2.9,-.1],[-7.3,30,2,1.4,2.1,2.5,.2,2,-1.2],[-6.4,36.5,4,-.9,-.8,1.5,.5],[-6.6,20.9,6,-2.7,-.1,1.8,.8],[-6.4,15.9,4,-2.6,-2.4,-1.2,-3.2,-.6,1.5],[-9.1,8.8,6,-2.1,.6,2,1.3],
[-6.6,3.6,4,-1.6,1.2,1.9,-2.1],[-10.6,-.3,2,-2.6,1.5,2.5,-2.4,1.5,2.4,-.5,-2.4],[-10.2,-7.2,1,-2.4,-1.4,1.1,3,2.3,-.8,-1.2,2.7],[-6.3,-11.1,3,-2,-1.1,2,.8],[-8.1,-17.1,0,-2.4,-.9,2.3,1.4],[-6.7,-27.8,3,.9,1.4,1.6,-.5],[-6.1,-33.8,0,-1.8,.2,1.8,-.3],[-6.6,-42.6,2,-1.9,1.5,1.9,.9],
[-3.6,49.3,4,-1.4,1.4,2.4,-1.2],[2,50.7,1,-1.8,3.9,-2.6,.4,2.9,-.6,-1.2,-1.8],[7.1,51.9,2,3.1,3.5,4.1,-1.1,-2.2,-1.4,-.4,-3,.4,2.7],[2,47,0,-3,.9,2.5,1.8,1.7,-2.7,-1.5,-2.4],[-3.6,44,1,1.8,.8],[11.8,46.6,2,3,-1.9,1,2.1],[7.5,44.2,0,-3,-2.2,.5,3.1,1.1,-1.4],[19,44.6,1,-3.4,-.8,2.1,-.8,-2.5,1.8],
[-1.8,38.6,1,-3.1,.7,3,2.2,.8,-2.8,-.6,3.1],[10.7,40.4,3,-2,-2.6,2.3,-2.1,-1.8,1.8,1.9,-.6],[15.5,38.2,2,-1.8,.1,1.9,.8,-.4,2.5],[20.4,36,0,-2,.4,1.2,-2.6,-.6,2.4],[25.5,38.3,3,-3,.1,1.9,.7,-.1,-2.4],[3.7,36.7,1,-2.3,1.4,2.6,-1.9,2.3,2,-1.5,-3.1],[12.1,34.4,1,-2.7,2.5,1.5,-2.8,2.4,1.3,-2.6,-.8],
[16.6,32.9,4,-1.2,-.9,2.3,-.1,.3,2.2],[23.4,31.5,3,-2.7,-.7,1.5,.1],[29.8,32.2,0,-.8,-3],[36.7,31.5,5],[-1.7,32.4,5,-2,-2.8,3.6,.9,.5,2.7],[4.9,27.8,2,-2.7,2.8,1.9,-2.7,-2,-.1],[8.5,29.7,5,-2.9,.7,-.7,2.1,1.1,-1.7],[11.9,27.1,5,3.9,1.5,-2,-1.8,-.3,2.7,2.3,-.8],[18.7,25.7,3,-2.5,.6,3.9,.4,-.4,-2.4],
[28.4,25.9,4,-3.8,.4,3.7,1.9,.5,-2.6],[35.3,24.5,5,-2.6,3.9,2.7,-2,2.3,0,-.9,-1.8],[40.6,27.3,2,-2.2,-.1,2.2,.1],[42.1,24,1,-3.4,-1.9,2,1.7],[47.3,18.6,4],[43.2,12.1,2],[41.6,7.5,6],[1.9,25.8,0,-2.2,1.1,1.9,-1.3],[-2.2,25.3,3,-1.3,-.8,1.3,1.2],[5.2,22.4,3,-3,-1.1,2.7,2.7],
[-3,22.5,1,-2,1.4,1.6,.8,.3,-3.9,-.9,-2.7],[9.9,21.8,0,-.9,-2.6,2.6,0,-.4,2.7],[15.9,21.3,1,-3,.2,1.6,1.1,-.2,-1.5],[26.8,21.8,5,-4.2,0,1.8,.7,-2.9,1.2,-2.3,-1.4],[1.4,18.1,6,-2.7,1.1,2.3,-.7,1.5,2.2,-.3,-2.5],[9.2,16,3,-3.4,1.8,2.5,-.4,.7,-1.5],[14.1,14.9,1,-1.9,-1.4,2.5,3.1,-.7,1.9],
[21,16.8,2,-2.6,-1.4,3,-.2,-1.2,2.6,1.2,-2.4,2.3,-1.4],[27.1,17.5,4,-2.1,1.4,2,-.7],[31.9,15.4,3,-1.9,1.4,3,2.6,-.4,4.4,.2,-2.1],[36.5,14,4,-1.3,2.6,1.2,-1.3,.2,2.8],[39.3,16.5,0,-2,2.5,1.9,-1.4,.6,-2],[-3.5,12.8,3,1.4,-.4,-.6,1.7],[-.1,12.1,1,-.7,3,.9,2.4,-.7,-1.2],
[3.8,13.9,2,2.3,-.1,-1.2,-1.8,-.6,1.8],[4.6,9.2,4,-1.8,1.9,2,1.7,1.5,-.9],[11.2,11.5,3,-2.5,1.2,2.5,-.2],[17.7,12.2,5,-2,-1.9,3,.5,-1.4,1.3],[27,12.3,1,-3.3,-.8,1.9,.7,-3.1,-2],[31.9,10.3,5,-1.6,1.8,3,-2.4,-1.3,-1.2,1.1,2.4],[20.1,8.1,0,-3,.8,2.9,-.1,.3,-2.5],
[28.1,8.2,5,-2.5,-.6,3.1,-2.6,2.8,-1.4],[1.7,7.2,6,-1,-2.2,1.2,.7,.3,1.9],[-2.8,6.8,3,-2.5,.9,2.2,-2.4,1.9,-.6,-1.3,2.4],[9.9,5.8,3,-2.7,-.6,2.6,.9],[14.3,5.6,5,-1.5,-.6,2.5,2.4,.2,1.8],[19,5,4,-1.9,-.8,.8,1.8],[6,2.9,3,-2.6,.4,2.4,2.1,-.5,-1.7],[12.6,1.4,1,-2.9,.6,2.8,.9,-1.3,-3],
[16.1,-.5,6,-2.1,-2.6,3.2,.7,-.4,1.9],[24.5,2.6,5,-2.2,1.2,2,-1.8,.6,-2.4],[36.2,3.3,5,-3,1.9,1.9,1.9,-1.9,-1.9,1.3,-1.9],[40.6,1.8,1,3.1,.8,-1.7,.8,-1.3,-1.5],[29.5,.5,0,2,3.1,1.1,-2,-.4,2.1],[25.3,-1.7,6,-1.9,-.4,2,.8,1.5,-1.3,0,2],[34.4,-1,3,-1.9,-1.3,1.3,-.8,-1.5,1.1],
[41.1,-3.6,2,-2.3,.4,-1.5,2.1,-.3,2.4,.4,-2.6],[44.8,-5.6,4,.6,3.8,1.8,-.6],[28.3,-4.6,5,-1.8,-1.7,1.1,1.5],[19.7,-3.2,1,-1.4,.1,2.1,-.1,-.5,3.4,-.8,-2.5],[-.5,.5,6,-2.2,-.2,2.5,-1.2,-1.6,2.1,3,-.2],[-4.9,-4.2,0,-1.9,1.2,2.5,-1.7],[1.8,-4.2,5,-2.1,1.5,2.9,-.8,1.4,2.7,-.1,-3.2],
[6.2,-2.7,3,-1.6,1.2,2.5,2.1,1.8,.4],[13.1,-6.4,2,-1.3,2.5,2.2,.7,0,-1.7],[19.3,-7.8,6,-2.5,-.2,1.9,.9,-1.6,-1.7],[25.7,-8.4,5,-2.7,-.8,2.9,.9,1.4,-1.4],[31.5,-7.7,1,-2.5,.2,1.2,2,-.3,-2.5],[34.4,-7.1,5,1.5,.8],[41.2,-11.8,6,-2.7,-.7,2.7,.5,1.7,2],[43.1,-16.3,6,-1.4,1.8,3.3,1.5,3,.6,-1.4,-1],
[46.6,-18.8,6,-2,.5],[41.9,-19.8,3,-1.9,.4,2.2,.6],[46.2,-25,3],[37.7,-23,6,-1.3,-.9,1.3,-.9,-.1,2.2],[37.7,-30.7,0,-.7,3.2,.3,-3.3,1.1,.8],[30.8,-22.1,2,-2.3,1.1,3.4,1.7,2.4,-3.1,-.5,-2.5],[24,-13.9,5,-2.5,1.2,3.6,-1.4,2.5,2.4,1.3,-3],[19.1,-16.1,0,-2.2,.9,2.5,-.2,.1,2.4],
[18.6,-19.6,1,-2.3,-1.4,2.3,-1.4,1.2,2.1],[24.8,-20.4,1,3.2,.8,-.9,-1.8],[33.9,-14.5,4,-2.4,-.2,1.8,3,.8,-3],[35.7,-16.2,4,2.5,1.9,1.9,-1.9,-.8,-1.9],[28.1,-25,4,-1.6,2.5,.8,2.2,-.7,-1.9],[22.2,-25.6,5,-1.4,-1.9,1.9,1.7,-.7,2.2],[26.9,-29.5,5,-2.3,1.4,2,.5],[30.8,-32.6,5,-4.1,-1.7,1.2,1.8],
[22.4,-33,1,-2.7,-1.1,.4,1.9],[18,-30,0,1.8,.1,.6,2.5,.1,-2.6],[14.5,-32,4,-2.7,.7,1.5,.7,-.2,-2.6],[12.3,-27.6,2,-2.7,2.5,2.3,1.3],[16.1,-25.2,0,-1.6,-1.8,1.7,1.4],[7.9,-30.4,0,-2.2,1.3,3.4,-.9,-.1,2.8],[10.2,-21.6,5,-2.5,.8,2.6,-.6],[13.5,-18.9,0,-2,.8,3.1,-.6,.5,-2.1,.5,2],
[9.6,-16.5,6,-2.6,1.2,3.1,.2,-1.2,-1.5],[8.6,-12.4,3,-2.3,-1.3,2.7,.8,-.5,1.4],[14.5,-9.6,0,-3.3,-1.4,3,-1.7,.4,2.1],[6.4,-8.2,6,-3,-2.1,3.2,.2,-2.1,2,2.3,1.4],[-.1,-11.3,1,-1.9,-.8,2,.9],[3,-14.4,2,-2,.2,2,-.5],[-.9,-14.9,5,-2.1,1.5,1.7,.7,.2,-2],[4.7,-19.7,4,-1.7,2.2,1.8,1.7],
[1.6,-21,3,-2.4,1.8,2.4,0,-2,-1.8,.6,-1.8],[5.4,-24.8,2,-1.4,-1.5,2.2,.2,-.2,2],[.3,-26.1,3,-2.9,1.5,-2.9,-.2],[-4.1,-21.6,3,-1.8,1.2,1.4,.8],[2.9,-29.3,4,-1.9,.9,.8,1.8,.2,-2.1],[-.8,-32.4,4,-2.2,-.5,1.1,1.7],[1,-36.4,0,-1.4,-.6,3,2.4,-.2,-2.4],[8.3,-37.6,6,-3.2,2,3.2,1.2,-2.9,-1.8,.6,3],
[8.9,-44.2,6,2.3,.9,-.5,1.9,.3,-1.9],[15.8,-37.1,1,-3.7,1.3,1.4,-.7],[20.8,-37.7,6,-2.5,-.5,-.1,-2.8],[24.2,-40.8,0,0,3,-.9,-2.5,.6,-2.5],[18.9,-44.8,5,-2.3,.7,1.2,2.7],[1.9,-43.4,4,-1.8,-1.3],[-3,-44,6,-1.6,-2.5,2.7,-.5,-.8,2.2,1.5,2.2],[-5.5,-37.8,0,3.2,1.4,3.1,-1.5,-1.8,.2]
]

var clustersD = [
[-61.4,1.4,3,-1.2,1.2,1.2,-2],[-59,-1.5,6,-1.2,1.4,1.5,-1.5],[-56.6,-4,5,-1.5,1,1.2,-2],[-53.5,-8.5,6,-1.4,1.7,1.2,-1],[-52.2,-10.4,1,-.8,1.4,1.6,-.6,-.2,-1.5],[-49.1,-13.6,2,-1.3,1.4,1.3,-.7,.3,-1.9],[-46.5,-17.1,2,-1.5,1.9,1.2,-1.3,-.6,-1.3],[-43.5,-20.5,5,-1.9,-1,-1.3,1.7,1.5,-1],
[-42.3,-22.5,4,-1.7,.5,1.5,-.1,.1,-1.9],[-39.7,-24.6,6,-1,-2.1,1.3,1.4,-1.2,1.4],[-37.9,-27.1,6,1.9,1,-1.2,1.5,.5,-2.4],[-34.4,-30,3,-1.3,1.7,1.9,.8,-.9,-1.5],[-32.2,-31.6,2,-1,1.9,1.7,-.5,-.7,-1.7],[-30.8,-33.5,4,-1.7,-1.5,2.1,.8,.3,2],[-28.2,-35.3,5,1.6,.8],[-25.4,-37.1,2,-1.6,-1,2.4,.5,-.2,2,1.2,-1.5],
[-21.8,-40,4,-2.8,.1,1.4,-1.7,1,1.3],[-18.9,-41.6,0,-1,2.1,1.3,-1.8,-.8,-1.8,1.3,1.2],[-16.3,-42.8,1,-1.3,.6,1.5,.6,.4,-1.8],[-13.6,-43.6,5,2.2,.2,1.5,-1.5,-.9,1.4],[-8.6,-43.4,0,-2.1,0,1,1.2,1.7,-.6],[-9.4,-46.6,0,-2.3,.5,1.5,-1.5,.8,2],[-5.6,-45.9,5,-1.6,-1.1,1.9,.7,1.2,-1.4],[-.5,-44.8,3,-2.2,.2,1.6,-1,.6,1.4],
[-2,-48.5,3,-1.9,.4,2.1,.4,0,-1.4],[2.6,-46.1,5,-2.2,-2,2,.4,-.1,2.1],[7,-44.2,3,-2.4,.2,2.1,-1.5,-.3,1.4],[7.2,-47.2,2,-2.3,.8,2.6,.2,.1,-1.5],[13,-46.1,3,-2.9,-.8,3,.4,1.3,1.5],[11.7,-42.6,1,-2.2,-.8,2.3,1,.2,2.1],[16.2,-42.7,1,-1.9,-1.9,1.5,1.7,-.6,1.7],[19.4,-43.2,6,-1.8,-2.6,1.8,-.2,.4,1.5],
[20.6,-39.6,4,-1.8,1,2.2,-1.4,-1.1,-1.4],[24.2,-38,2,-2.3,1.1,2.2,-.7,.1,2.3,.8,-2.5],[28.7,-36,1,-2.6,-.8,2.2,1,-.2,1.5],[27.3,-33.3,3,-2.2,-1.4,2.3,0,.2,1.8],[32,-32,6,-1.5,-.7,1.7,1.1],[34.2,-33.9,1,-1.8,-1.2,2.6,1.2],[38,-30.2,5,-1.5,.7,1,1.7],[35.1,-29,0,-2.1,-1.3,1.9,2.3,1,-1.9],
[39,-26,4,-1.7,-.7,1,1.7],[42,-28.5,0,3.5,.2,-1.7,-1.2,.1,2.4],[42.6,-24.4,3,-1.5,.6,1.2,-1.2],[45.7,-23.8,3,1.6,1.8,-1.2,1.2,.6,-1.8],[40.5,-22.3,5,-2.6,.2,1.6,-1,.2,2],[43.1,-19.6,6,2.3,-.8,.3,1.8,-1,-1.2],[46.7,-17.4,2,-1.9,-1.7,1.9,.1,.2,-2.3],[46.4,-14.9,1,-1.3,1.8,2.9,-1.2,-1.6,-1.2],
[50,-12.5,3,-1.7,1.8,1.8,0,.4,-2.7],[47.5,-10,6,-1.9,-1.3,1.9,1.1,.5,-1.9],[51.2,-8.7,0,-1.9,1.5,2.4,.6,.6,-3.2,1.3,3.3],[46.9,-7,4,-1.3,1.7,2.2,-1.3,-1.3,-1.3,1.1,2.3],[49.9,-3.8,0,-2.3,1.4,3.1,-1,2.2,1.7,.5,-2.7],[45.1,-2.6,3,-1.3,1.4,2.2,-.4,.1,-1.5],[50.2,.3,6,-1.2,-2.1,1.6,1.4,.2,2.3],[46.3,.7,5,-1.8,1.1,1.7,-.7,.6,-1.9],
[47,3.7,1,-2.8,.5,2.4,-1.3,-.1,2.9],[41.9,5,3,-2.1,1,2.3,-.2,.2,-2],[43.1,8.2,2,-2.1,1.3,2.1,-1.7,.3,-2.3],[38.7,7.6,0,-1.8,.1,2,-1.1,1.3,1.3],[39.7,10.2,2,-1.7,2.9,2.4,.5,-1,-1.9,.7,2.9],[35.1,11,4,-2,.8,2.5,-1,-.3,2,1.1,-1.5],[35.2,7.5,2,-1.8,.8,2,.8,-.4,-2.7,1.3,-2.1],[33.9,14.5,4,-2.1,-.8,2.6,.7,.5,-2],
[31,9.8,1,-3.2,-2.5,1.7,2,2.4,-1,-1.1,2],[30.2,15.2,1,-1.8,1.4,1.5,-1.5,.4,2],[27.4,13.4,5,-2.3,-.4,1.5,1.4],[24.8,10.7,4,-1.5,1.2,2,-.6,-.4,-1.8],[24.9,15.8,0,-1.5,-1,1.3,1.8,.2,-2.1],[21.2,10.2,4,-1,-1.9,1.1,1.1,-.3,-2.5],[21.7,15.5,6,-2.5,-.7,1.7,1.1,-.8,-1.9,-.4,2.3],[18.3,11.9,6,-.8,-1.4,.9,1.8],
[16.5,16.3,2,-1.5,-1.4,.9,2.1,.8,-1.8],[16.6,27.4,2],[13.6,12.3,2,-2.4,1.3,2.1,-1.7,-1,-1.7],[12.7,16.1,5,-2.6,1.1,.9,-1.9,.2,1.7],[14.1,9,1,-2.2,-1.3,2.6,1.1,.2,2.3],[10.5,10.7,5,1,-.6],[8.2,14.5,3,-2.9,1,2.6,-.5,-2.2,-1.4,.6,1.5],[7.4,10.8,0,-2.8,-.5,1.2,-3.1,1.4,1.1],
[7.7,19,0,3.1,2.1,-1.7,1.8,-.3,-1.8],[3.4,17.7,5,-1.8,-1.7,1.5,.1,.1,2.1],[1.4,44.4,2,1.3,.4],[-5.5,42.4,6,-1.3,-1.8,1,2.1,1.7,-1.4],[-2.6,43.6,0,-1.5,.7,1.7,1,-.4,-2,.8,1.8],[-9.1,42.3,0,-1.5,-1.3,1.3,1.1],[-8.9,38,1,-2.1,.2,2.8,1.2,0,-2.4],[-2.9,38.4,1,-1.7,-2.7,1,-1,-.1,2],
[4.7,37.2,3,-1.4,3.4,4.2,-.8],[-2.2,31.8,1,-1.9,1.8,1.9,-.7],[2.2,31.6,1,-2.4,1.7,2.3,.5,.3,-2.5],[8.5,28.4,1,-2.2,.7,1.6,2.1,-1.2,-1.1],[-6.9,29.3,6,.3,3,2.9,-.5,-1.4,-1.4,1,-2.3],[-1,27.4,2,-2.6,-1.5,3,.7,-1.4,1.7],[5.1,24.7,0,-1.5,-2.1,1.4,-1.3,.2,1.7],[.35,22.4,2,1.8,-1.7,-1,1.3],
[-7.4,23.7,6,-1.3,2.4,1.5,-1.8,-1.3,-1.8],[-3.9,21.6,5,-2.3,-.8,1.9,1,.1,-2],[-4,17.4,6,-1.5,1,1.6,-1.4,-.1,2.1],[-.7,17.9,4,-1.7,-.7,1.8,-.1,.1,2.3],[-7,13.4,4,-2.4,-2.7,2.2,1.4,-.3,2],[-2.4,13.3,4,-1.7,1,2.1,-.2,.3,-2],[1.5,14,3,-1.4,-2.1,2.8,0,.3,2.6,-1.7,1.4],[-2.9,8.9,5,-1.5,-2.4,2.6,1.8,1.3,1.2],
[.9,5.6,4,-1.7,-1.8,4.4,-.8,.2,2.7,.2,-3.8],[-8,5.6,2,-2.7,-1,3.9,-2.1,.8,1.7],[12.6,1.6,0,-2.3,2.9],[10.4,-3.2,4,-2.7,-.1,-1,2,1.5,2],[26,-.6,6],[-4.3,-3.1,2,-4.1,-1.3,2.6,3.3,1.9,-.5,.9,2.5],[-7.4,.5,6,-2.9,-1.1,2.8,.5,-1.2,1.9,1.2,-1.1],
[-13.7,52.3,0,-2.3,.2,.3,-1.8],[-15.7,50.1,4,-1.2,1,1.2,-.8,-.9,-1.4],[-13,47.6,2,2,-1.9,-1.1,1.1],[-17.3,46.2,0,-3.8,-.2,2.4,-1.1],[-27.8,42.8,4,-1.2,-1.2,1.1,-.6],[-25,41.2,4,-2.1,-1.2,1.9,.1,.5,1.5],[-17.1,40.5,0,-1.9,-1.1,.8,1.3],[-13.8,41.3,3,-1,1.4,1.7,-1.2,.3,2,-.3,-2.1],
[-20.5,39.2,1,-2.2,-.6,1.5,1.2,.5,-1.4],[-14.6,35.7,2,1.1,2.3,-1,1.1,.4,-1.9],[-18,32.7,0,-3.8,1.5,1.4,1.8,.7,-1.8],[-13.6,31.3,5,2.9,1,.1,2.5,-1.6,-1.1,.1,-2.3],[-25,30.5,6,-2.4,.4,2.2,.6,.8,2.7,-.9,-2,1.5,-1.4],[-32.8,26.8,6,-1.9,1.1,1.9,-1.3,-1.2,-1.3,.9,1.4],[-20.6,28.7,6,-2.1,.4,2.8,-.2,.9,-2],
[-25,24.7,1,1.9,.8,-.2,2.6,1.5,-1.9],[-11.8,27,2,-1.7,.8,2.2,-1,.8,-2.1],[-14.5,24.7,5,-1.4,1.4,1.7,-1.5,-.3,-1.9,.7,2],[-17.4,22.9,1,-2.3,.8,2.6,.2,.1,-2.1,-.9,2],[-10.3,22.6,4,-2.4,.6,2.4,-1.2,-.3,2.1],[-27.1,20.9,6,-1.7,-.1,.4,1.4],[-21.3,20.3,3],[-13.3,19.9,3,-2.6,.8,2.6,.5,-.5,-1.5],
[-8.2,17.7,1,-2.1,.7,1.7,-1.1,-.1,1.9],[-16.2,17.8,3,-2.2,1.4,1,-1.2],[-19.1,16,3,-1.3,-1.2],[-25.8,15.3,5,-2,-2.3,2.8,2.3,2.3,.7],[-16.3,13.2,5,-1.8,-2.5,2.8,1.1,1.1,-1.3],[-11.4,14.5,4,.7,2.1,-1,-1.4],[-21,9.6,0,-1.1,1.7,3.4,-2.5],[-28.4,9.5,0,-1.5,-.6,4.2,-1.8],
[-24.3,7.3,3,-2.7,1,1.5,1.5,1.1,-1.4],[-13.2,9.2,4,1.4,-2.7,-.9,1.4],[-21.1,5,1,-2.1,1,1,-1.4,.7,2.1],[-14.8,4.5,5,3.3,-.7,-.3,2.6,-1.4,-1.5],[-17.2,1.6,5,-2.7,-.5,2,1.3,.3,-2.6,-1.5,-1.7],[-14.1,.6,1,-2.1,-1.2,1.2,1.2],[-14.5,-2.5,0,-1.7,1.1,2.2,-.5],[-18.2,-2.5,2,-.8,-1.7,1.3,1.9,.9,-1.3]
]

var panels = [
  {data: clustersA, title: titles[0], letter: letters[0], xd: [-54.67, 54.41], yd: [-59.9, 58.46], box: [37.5, 27, 668, 335], xt: xTicksA, yt: yTicksA, tx: 353, ty: 23, tf: 14.95, lx: 10, ly: 23},
  {data: clustersB, title: titles[1], letter: letters[1], xd: [-56.12, 51.22], yd: [-58.2, 61.72], box: [706, 28, 1320, 335], xt: xTicksB, yt: yTicksB, tx: 1012.5, ty: 24, tf: 14.55, lx: 680, ly: 24},
  {data: clustersC, title: titles[2], letter: letters[2], xd: [-59.14, 52.42], yd: [-53.09, 60.39], box: [36, 377, 673, 697], xt: xTicksC, yt: yTicksC, tx: 354, ty: 373, tf: 15.1, lx: 9, ly: 367},
  {data: clustersD, title: titles[3], letter: letters[3], xd: [-68.4, 59.31], yd: [-54.08, 58.93], box: [708, 378, 1321, 695], xt: xTicksD, yt: yTicksD, tx: 1014, ty: 375, tf: 14.55, lx: 676, ly: 373}
]

var svg = d3.select("#chart").append("svg")
    .attr("width", 1322)
    .attr("height", 715)
    .style("display", "block")

panels.forEach(function(p){
  var x = d3.scaleLinear().domain(p.xd).range([p.box[0], p.box[2]])
  var y = d3.scaleLinear().domain(p.yd).range([p.box[3], p.box[1]])
  var g = svg.append("g")

  // one group per cluster so later clusters sit on top of earlier ones
  var cl = g.selectAll(".cluster").data(p.data).enter().append("g").attr("class", "cluster")
  cl.each(function(c){
    var me = d3.select(this)
    var col = groupColors[c[2]]
    var members = []
    for (var i = 3; i < c.length; i += 2){ members.push([c[0] + c[i], c[1] + c[i + 1]]) }
    me.selectAll("line").data(members).enter().append("line")
      .attr("x1", x(c[0])).attr("y1", y(c[1]))
      .attr("x2", function(d){return x(d[0])}).attr("y2", function(d){return y(d[1])})
      .attr("stroke", col).attr("stroke-width", 1)
    me.selectAll(".m").data(members).enter().append("circle").attr("class", "m")
      .attr("cx", function(d){return x(d[0])}).attr("cy", function(d){return y(d[1])})
      .attr("r", 1.3).attr("fill", col)
    me.append("circle")
      .attr("cx", x(c[0])).attr("cy", y(c[1]))
      .attr("r", 4.5).attr("fill", col).attr("stroke", "#222").attr("stroke-width", 0.5)
  })

  var xAxis = g.append("g").attr("transform", "translate(0," + p.box[3] + ")")
    .call(d3.axisBottom(x).tickValues(p.xt).tickSize(2).tickPadding(3).tickFormat(d3.format("d")))
  var yAxis = g.append("g").attr("transform", "translate(" + p.box[0] + ",0)")
    .call(d3.axisLeft(y).tickValues(p.yt).tickSize(2).tickPadding(4).tickFormat(d3.format("d")))
  xAxis.select(".domain").remove()
  yAxis.select(".domain").remove()
  g.selectAll(".tick line").attr("stroke", "#999")
  g.selectAll(".tick text").style("font-size", "12.5px").attr("fill", "#222")

  g.append("rect")
    .attr("x", p.box[0]).attr("y", p.box[1])
    .attr("width", p.box[2] - p.box[0]).attr("height", p.box[3] - p.box[1])
    .attr("fill", "none").attr("stroke", "#8c8c8c").attr("stroke-width", 1.1)

  g.append("text")
    .attr("x", p.tx).attr("y", p.ty)
    .attr("text-anchor", "middle")
    .style("font-size", p.tf + "px")
    .text(p.title)
  g.append("text")
    .attr("x", p.lx).attr("y", p.ly)
    .style("font-size", "24px")
    .text(p.letter)
})
</script>
</body>
</html>
